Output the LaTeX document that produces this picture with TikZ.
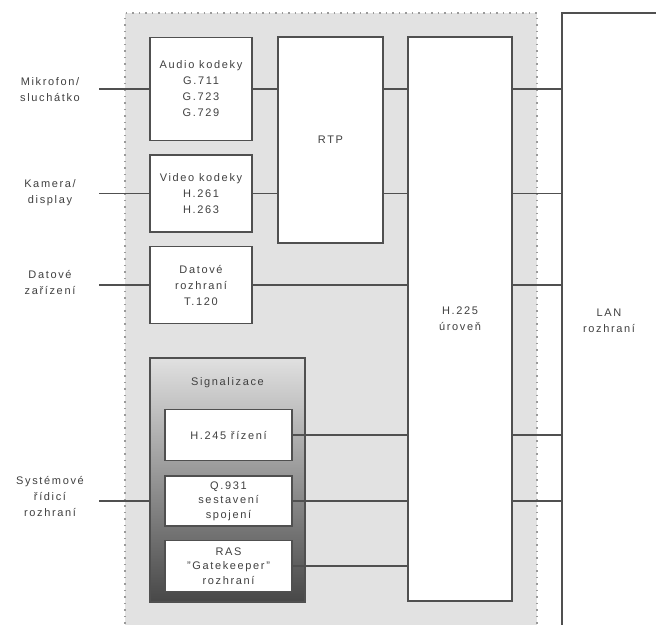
\documentclass[tikz,border=0pt]{standalone}
\usepackage{fontspec}
\setmainfont{Liberation Sans}[LetterSpace=15]
\usetikzlibrary{positioning}
\definecolor{edge}{HTML}{505050}
\definecolor{txt}{HTML}{404040}
\definecolor{zonefill}{HTML}{E2E2E2}
\definecolor{dotc}{HTML}{9A9A9A}

\begin{document}
\begin{tikzpicture}[x=1pt, y=1pt,
    every node/.style={font=\fontsize{11}{16}\selectfont, text=txt},
    box/.style={draw=edge, fill=white, line width=1.5pt, align=center, inner sep=0pt},
    tight/.style={font=\fontsize{11}{14.5}\selectfont},
    sigbox/.style={draw=edge, line width=1.5pt, top color=black!12, bottom color=black!72},
    ext/.style={align=center, minimum width=98pt, inner sep=0pt},
    wire/.style={draw=edge, line width=1.5pt}]
  \useasboundingbox (0,0) rectangle (656,-624);
  \clip (0,0) rectangle (656,-624);
  % terminal zone
  \fill[zonefill] (125,-13) rectangle (537,-630);
  \draw[dotc, line width=1.3pt, dash pattern=on 1.5pt off 5pt]
    (125,-630) -- (125,-13) -- (537,-13) -- (537,-630);
  % codecs and data
  \node[box, minimum width=102pt, minimum height=103pt] (audio) at (201,-89) {Audio kodeky\\G.711\\G.723\\G.729};
  \node[box, minimum width=102pt, minimum height=77pt, below=13pt of audio] (video) {Video kodeky\\H.261\\H.263};
  \node[box, minimum width=102pt, minimum height=77pt, below=13pt of video] (data) {Datové\\rozhraní\\T.120};
  \node[box, minimum width=105pt, minimum height=206pt] (rtp) at (330.5,-140) {RTP};
  \node[box, minimum width=104pt, minimum height=564pt] (h225) at (460,-319) {H.225\\úroveň};
  \node[ext, minimum width=94pt, minimum height=616pt] (lan) at (609,-321) {LAN\\rozhraní};
  \draw[wire] (lan.south west) -- (lan.north west) -- ([xshift=10pt]lan.north east);
  % signalling
  \node[sigbox, minimum width=155pt, minimum height=244pt] (sig) at (227.5,-480) {};
  \node[inner sep=0pt, below=20pt of sig.north] (sigtitle) {Signalizace};
  \node[box, minimum width=127pt, minimum height=51pt] (h245) at (228.5,-435) {H.245 řízení};
  \node[box, tight, minimum width=127pt, minimum height=50pt, below=14pt of h245] (q931) {Q.931\\sestavení\\spojení};
  \node[box, tight, minimum width=127pt, minimum height=51pt, below=13pt of q931] (ras) {RAS\\"Gatekeeper"\\rozhraní};
  % outside devices
  \node[ext] (mic) at (50,-90) {Mikrofon/\\sluchátko};
  \node[ext] (cam) at (50,-193) {Kamera/\\display};
  \node[ext] (dev) at (50,-282) {Datové\\zařízení};
  \node[ext] (sys) at (50,-496) {Systémové\\řídicí\\rozhraní};
  % connections
  \draw[wire] (mic.east |- audio) -- (audio);
  \draw[wire] (cam.east |- video) -- (video);
  \draw[wire] (dev.east |- data) -- (data);
  \draw[wire] (sys.east |- q931) -- (q931 -| sig.west);
  \draw[wire] (audio) -- (audio -| rtp.west);
  \draw[wire] (video) -- (video -| rtp.west);
  \foreach \n in {audio,video}
    \draw[wire] (rtp.east |- \n) -- (h225.west |- \n);
  \draw[wire] (data) -- (data -| h225.west);
  \foreach \n in {h245,q931,ras}
    \draw[wire] (\n) -- (\n -| h225.west);
  \foreach \n in {audio,video,data,h245,q931}
    \draw[wire] (h225.east |- \n) -- (lan.west |- \n);
\end{tikzpicture}
\end{document}
